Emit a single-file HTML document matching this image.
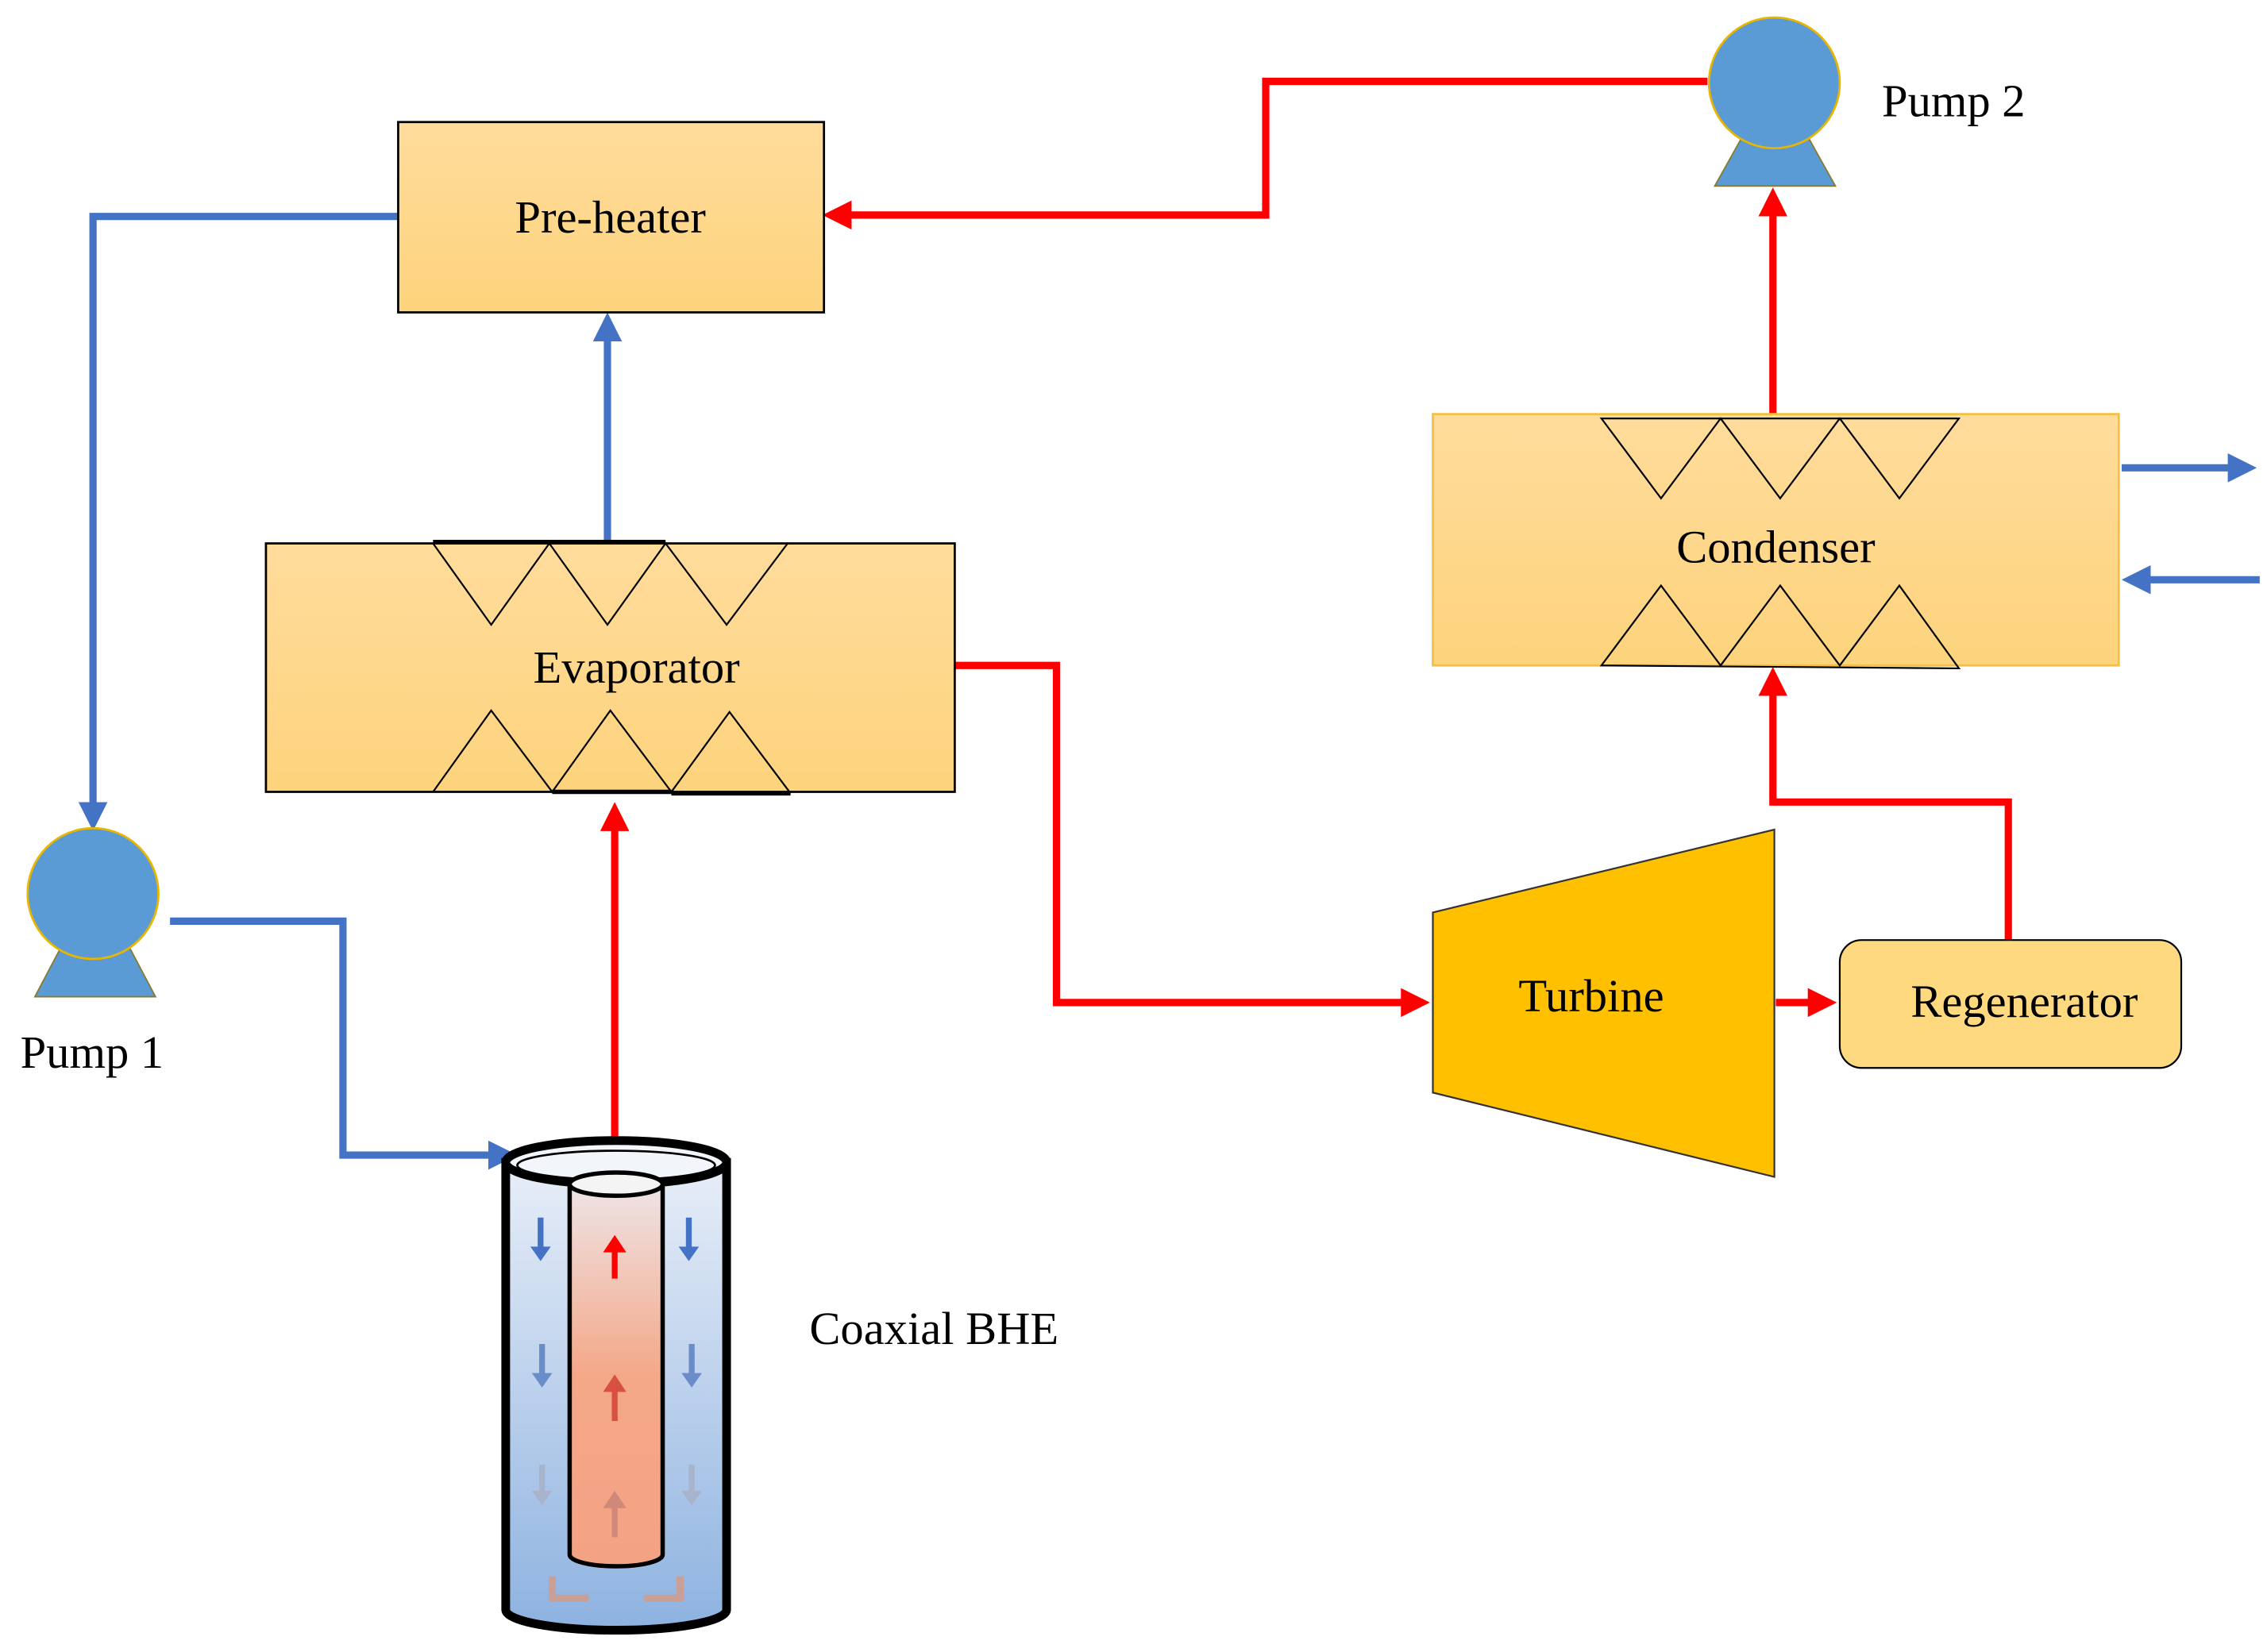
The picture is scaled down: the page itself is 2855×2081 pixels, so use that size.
<!DOCTYPE html>
<html><head><meta charset="utf-8"><style>html,body{margin:0;padding:0;background:#fff}svg{display:block}</style></head><body>
<svg width="2855" height="2081" viewBox="0 0 1560 1137" preserveAspectRatio="none" xmlns="http://www.w3.org/2000/svg" font-family="'Liberation Serif',serif">
<defs>
<linearGradient id="g" x1="0" y1="0" x2="0" y2="1"><stop offset="0" stop-color="#FFDC9C"/><stop offset="1" stop-color="#FDD37C"/></linearGradient>
<linearGradient id="bl" x1="0" y1="0" x2="0" y2="1"><stop offset="0" stop-color="#E8EEF8"/><stop offset="1" stop-color="#8DB2E0"/></linearGradient>
<linearGradient id="rd" x1="0" y1="0" x2="0" y2="1"><stop offset="0" stop-color="#EEE4E6"/><stop offset="0.5" stop-color="#F4A888"/><stop offset="1" stop-color="#F4A284"/></linearGradient>
<marker id="ab" markerWidth="4" markerHeight="4" refX="2" refY="2" orient="auto" markerUnits="strokeWidth"><path d="M0,0 L4,2 L0,4 Z" fill="#4472C4"/></marker>
<marker id="ar" markerWidth="4" markerHeight="4" refX="2" refY="2" orient="auto" markerUnits="strokeWidth"><path d="M0,0 L4,2 L0,4 Z" fill="#FF0000"/></marker>
</defs>
<g fill="none" stroke-width="5">
<polyline points="274,149 64,149 64,562" stroke="#4472C4" marker-end="url(#ab)"/>
<polyline points="117,634 236,634 236,795 346,795" stroke="#4472C4" marker-end="url(#ab)"/>
<polyline points="418,374 418,225" stroke="#4472C4" marker-end="url(#ab)"/>
<polyline points="1460,322 1543,322" stroke="#4472C4" marker-end="url(#ab)"/>
<polyline points="1555,399 1470,399" stroke="#4472C4" marker-end="url(#ab)"/>
<polyline points="423,805 423,562" stroke="#FF0000" marker-end="url(#ar)"/>
<polyline points="657,458 727,458 727,690 974,690" stroke="#FF0000" marker-end="url(#ar)"/>
<polyline points="1222,690 1254,690" stroke="#FF0000" marker-end="url(#ar)"/>
<polyline points="1382,647 1382,552 1220,552 1220,469" stroke="#FF0000" marker-end="url(#ar)"/>
<polyline points="1220,285 1220,139" stroke="#FF0000" marker-end="url(#ar)"/>
<polyline points="1175,56 871,56 871,148 576,148" stroke="#FF0000" marker-end="url(#ar)"/>
</g>
<rect x="274" y="84" width="293" height="131" fill="url(#g)" stroke="#000" stroke-width="1.5"/>
<text x="420" y="160" font-size="32" text-anchor="middle">Pre-heater</text>
<rect x="183" y="374" width="474" height="171" fill="url(#g)" stroke="#000" stroke-width="1.5"/>
<g fill="none" stroke="#000" stroke-width="1.2">
<path d="M298,374 L338,430 L378,374 L418,430 L458,374 L500,430 L542,374"/>
<line x1="298" y1="373" x2="458" y2="373" stroke-width="3"/>
<path d="M298,545 L338,489 L380,545 L420,489 L462,545 L502,490 L544,546"/>
<line x1="380" y1="545" x2="462" y2="545" stroke-width="3"/><line x1="462" y1="546" x2="544" y2="546" stroke-width="3"/>
</g>
<text x="438" y="470" font-size="32" text-anchor="middle">Evaporator</text>
<rect x="986" y="285" width="472" height="173" fill="url(#g)" stroke="#F5C040" stroke-width="1.5"/>
<g fill="none" stroke="#000" stroke-width="1.2">
<path d="M1102,288 L1143,343 L1184,288 L1225,343 L1266,288 L1307,343 L1348,288 Z"/>
<path d="M1102,458 L1143,403 L1184,458 L1225,403 L1266,458 L1307,403 L1348,460 Z"/>
</g>
<text x="1222" y="387" font-size="32" text-anchor="middle">Condenser</text>
<polygon points="986,628 1221,571 1221,810 986,752" fill="#FFC000" stroke="#333" stroke-width="1.2"/>
<text x="1095" y="696" font-size="32" text-anchor="middle">Turbine</text>
<rect x="1266" y="647" width="235" height="88" rx="15" fill="#FFD980" stroke="#000" stroke-width="1.2"/>
<text x="1393" y="700" font-size="32" text-anchor="middle">Regenerator</text>
<polygon points="24,686 107,686 88,650 43,650" fill="#5B9BD5" stroke="#8a7a30" stroke-width="1"/>
<circle cx="64" cy="615" r="45" fill="#5B9BD5" stroke="#E8B500" stroke-width="1.5"/>
<text x="14" y="735" font-size="32">Pump 1</text>
<polygon points="1180,128 1263,128 1244,94 1199,94" fill="#5B9BD5" stroke="#8a7a30" stroke-width="1"/>
<circle cx="1221" cy="57" r="45" fill="#5B9BD5" stroke="#E8B500" stroke-width="1.5"/>
<text x="1295" y="80" font-size="32">Pump 2</text>
<path d="M348,800 L348,1108 A76,14 0 0 0 500,1108 L500,800 Z" fill="url(#bl)" stroke="#000" stroke-width="6"/>
<ellipse cx="424" cy="800" rx="76" ry="15" fill="#F2F5FA" stroke="#000" stroke-width="6"/>
<ellipse cx="424" cy="802" rx="68" ry="10" fill="none" stroke="#000" stroke-width="1.5"/>
<path d="M392,815 L392,1070 A32,8 0 0 0 456,1070 L456,815 Z" fill="url(#rd)" stroke="#000" stroke-width="3"/>
<ellipse cx="424" cy="815" rx="32" ry="8" fill="#F4F4F4" stroke="#000" stroke-width="3"/>
<g stroke-width="4" fill="none">
<line x1="372" y1="838" x2="372" y2="860" stroke="#4472C4"/><line x1="474" y1="838" x2="474" y2="860" stroke="#4472C4"/>
<line x1="373" y1="925" x2="373" y2="947" stroke="#6A8CC8"/><line x1="476" y1="925" x2="476" y2="947" stroke="#6A8CC8"/>
<line x1="373" y1="1008" x2="373" y2="1028" stroke="#A8B4CC"/><line x1="476" y1="1008" x2="476" y2="1028" stroke="#A8B4CC"/>
<line x1="423" y1="880" x2="423" y2="858" stroke="#FF0000"/>
<line x1="423" y1="978" x2="423" y2="955" stroke="#D85040"/>
<line x1="423" y1="1058" x2="423" y2="1035" stroke="#D08878"/>
<path d="M380,1085 L380,1100 L405,1100" stroke="#C8A098" stroke-width="5"/>
<path d="M468,1085 L468,1100 L443,1100" stroke="#C8A098" stroke-width="5"/>
</g>
<g>
<path d="M365,858 L379,858 L372,868 Z" fill="#4472C4"/><path d="M467,858 L481,858 L474,868 Z" fill="#4472C4"/>
<path d="M366,945 L380,945 L373,955 Z" fill="#6A8CC8"/><path d="M469,945 L483,945 L476,955 Z" fill="#6A8CC8"/>
<path d="M366,1026 L380,1026 L373,1036 Z" fill="#A8B4CC"/><path d="M469,1026 L483,1026 L476,1036 Z" fill="#A8B4CC"/>
<path d="M415,862 L431,862 L423,850 Z" fill="#FF0000"/>
<path d="M415,958 L431,958 L423,946 Z" fill="#D85040"/>
<path d="M415,1038 L431,1038 L423,1026 Z" fill="#D08878"/>
</g>
<text x="557" y="925" font-size="32">Coaxial BHE</text>
</svg>
</body></html>
